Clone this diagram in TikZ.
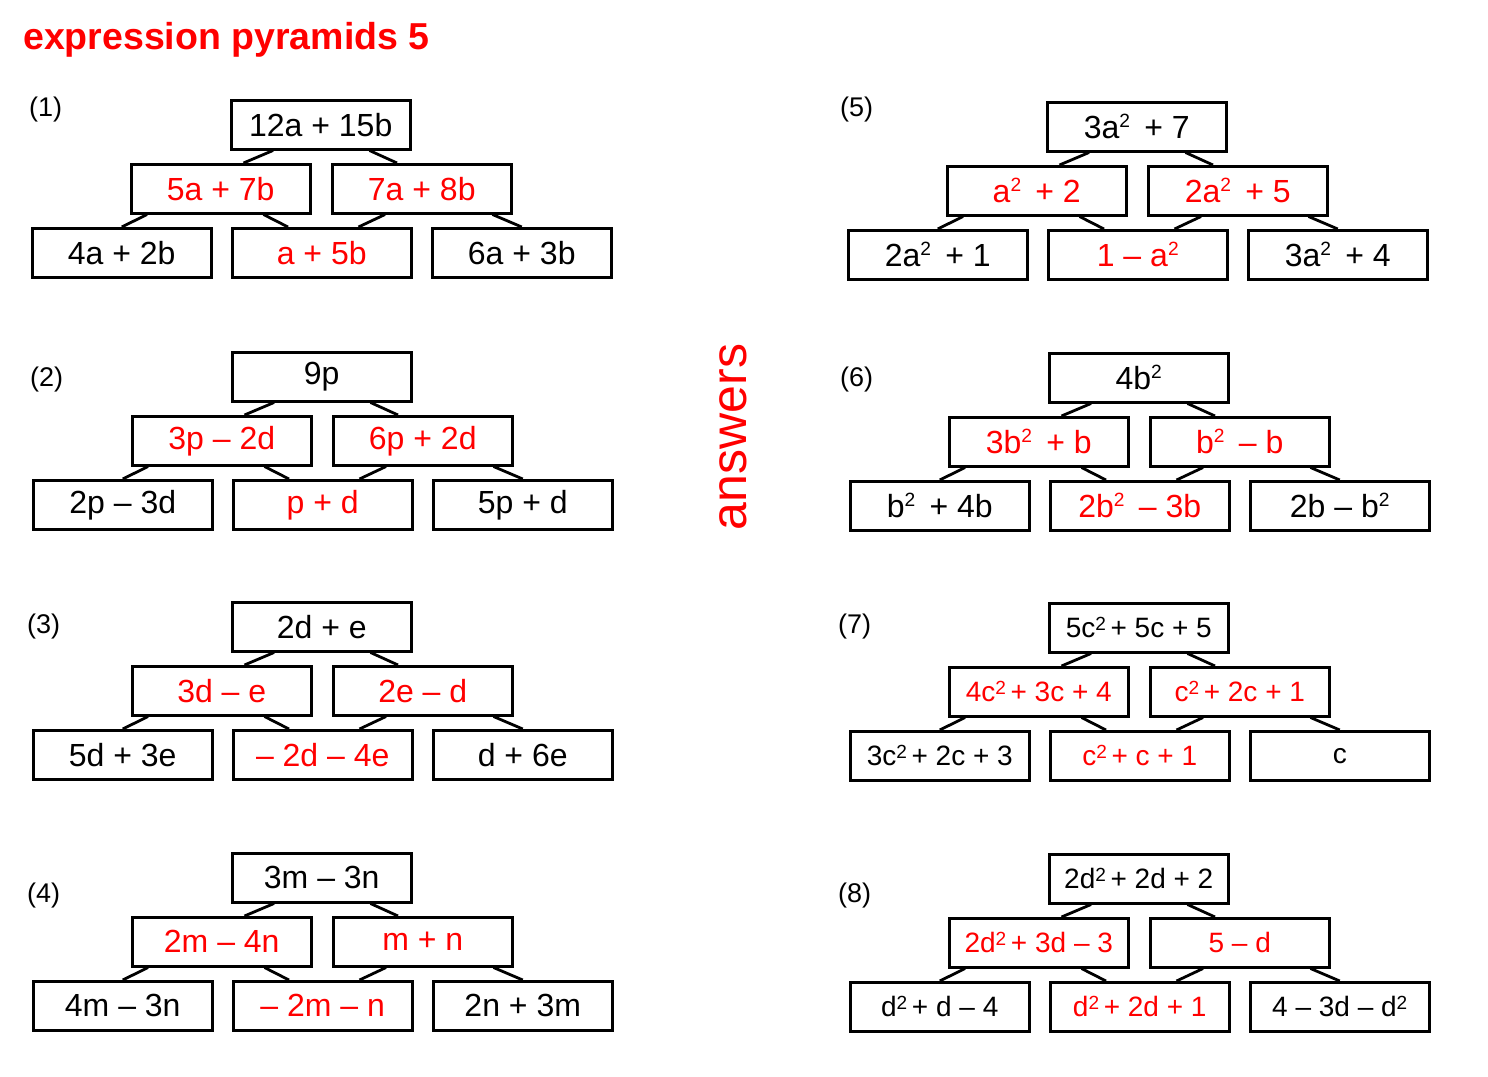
\documentclass[tikz,border=0pt]{standalone}
\usepackage{fontspec}
\setmainfont{Liberation Sans}
\usepackage{graphicx}
\newcommand\sq[1]{\raisebox{0.34em}{\scalebox{0.6}{#1}}}
\newcommand\sqb[1]{\raisebox{0.25em}{\scalebox{0.68}{#1}}}
\newcommand\boxfont{\fontsize{32}{32}\selectfont}
\tikzset{
  box/.style={draw=black, line width=2.5pt, minimum width=179pt, minimum height=49pt,
    inner sep=0pt, anchor=north west, font=\boxfont, text=black},
  ans/.style={text=red},
  link/.style={draw=black, line width=2.8pt},
  lbl/.style={font=\fontsize{27}{27}\selectfont, anchor=west, inner sep=0pt},
}
\newcommand\pyr[9]{%
  \node[box] (#1T) at (#2+199,#3) {#4};
  \node[box,ans] (#1L) at (#2+99,#3+64) {#5};
  \node[box,ans] (#1R) at (#2+300,#3+64) {#6};
  \node[box] (#1A) at (#2,#3+128) {#7};
  \node[box,ans] (#1B) at (#2+200,#3+128) {#8};
  \node[box] (#1C) at (#2+400,#3+128) {#9};
  \draw[link] ([xshift=43pt]#1T.south west) -- ([xshift=-68pt]#1L.north east);
  \draw[link] ([xshift=-42pt]#1T.south east) -- ([xshift=66pt]#1R.north west);
  \draw[link] ([xshift=17pt]#1L.south west) -- (#1A.north);
  \draw[link] ([xshift=-48pt]#1L.south east) -- ([xshift=57pt]#1B.north west);
  \draw[link] ([xshift=54pt]#1R.south west) -- ([xshift=-54pt]#1B.north east);
  \draw[link] ([xshift=-20pt]#1R.south east) -- (#1C.north);
}
\begin{document}
\begin{tikzpicture}[x=1pt,y=-1pt]
  \useasboundingbox (0,0) rectangle (1488,1076);
  \node[anchor=base west, inner sep=0pt, text=red, font=\fontsize{37.5}{37.5}\selectfont\bfseries] (title) at (23,49) {expression pyramids 5};
  \node[anchor=center, inner sep=0pt, text=red, font=\fontsize{50}{50}\selectfont, rotate=90] (answers) at (733,437) {answers};

  \node[lbl] (l1) at (29,110) {(1)};
  \node[lbl] (l2) at (30,380) {(2)};
  \node[lbl] (l3) at (27,627) {(3)};
  \node[lbl] (l4) at (27,896) {(4)};
  \node[lbl] (l5) at (840,110) {(5)};
  \node[lbl] (l6) at (840,380) {(6)};
  \node[lbl] (l7) at (838,627) {(7)};
  \node[lbl] (l8) at (838,896) {(8)};

  \pyr{a}{31}{99}{12a + 15b}{5a + 7b}{7a + 8b}{4a + 2b}{a + 5b}{6a + 3b}
  \pyr{b}{32}{351}{9p}{3p – 2d}{6p + 2d}{2p – 3d}{p + d}{5p + d}
  \pyr{c}{32}{601}{2d + e}{3d – e}{2e – d}{5d + 3e}{– 2d – 4e}{d + 6e}
  \pyr{d}{32}{852}{3m – 3n}{2m – 4n}{m + n}{4m – 3n}{– 2m – n}{2n + 3m}
  \pyr{e}{847}{101}{3a\sq{2}\, + 7}{a\sq{2}\, + 2}{2a\sq{2}\, + 5}{2a\sq{2}\, + 1}{1 – a\sq{2}}{3a\sq{2}\, + 4}
  \pyr{f}{849}{352}{4b\sq{2}}{3b\sq{2}\, + b}{b\sq{2}\, – b}{b\sq{2}\, + 4b}{2b\sq{2}\, – 3b}{2b – b\sq{2}}
  \begin{scope}
    \renewcommand\boxfont{\fontsize{28}{28}\selectfont}
    \pyr{g}{849}{602}{5c\sqb{2}\,+ 5c + 5}{4c\sqb{2}\,+ 3c + 4}{c\sqb{2}\,+ 2c + 1}{3c\sqb{2}\,+ 2c + 3}{c\sqb{2}\,+ c + 1}{c}
    \pyr{h}{849}{853}{2d\sqb{2}\,+ 2d + 2}{2d\sqb{2}\,+ 3d – 3}{5 – d}{d\sqb{2}\,+ d – 4}{d\sqb{2}\,+ 2d + 1}{4 – 3d – d\sqb{2}}
  \end{scope}
\end{tikzpicture}
\end{document}
